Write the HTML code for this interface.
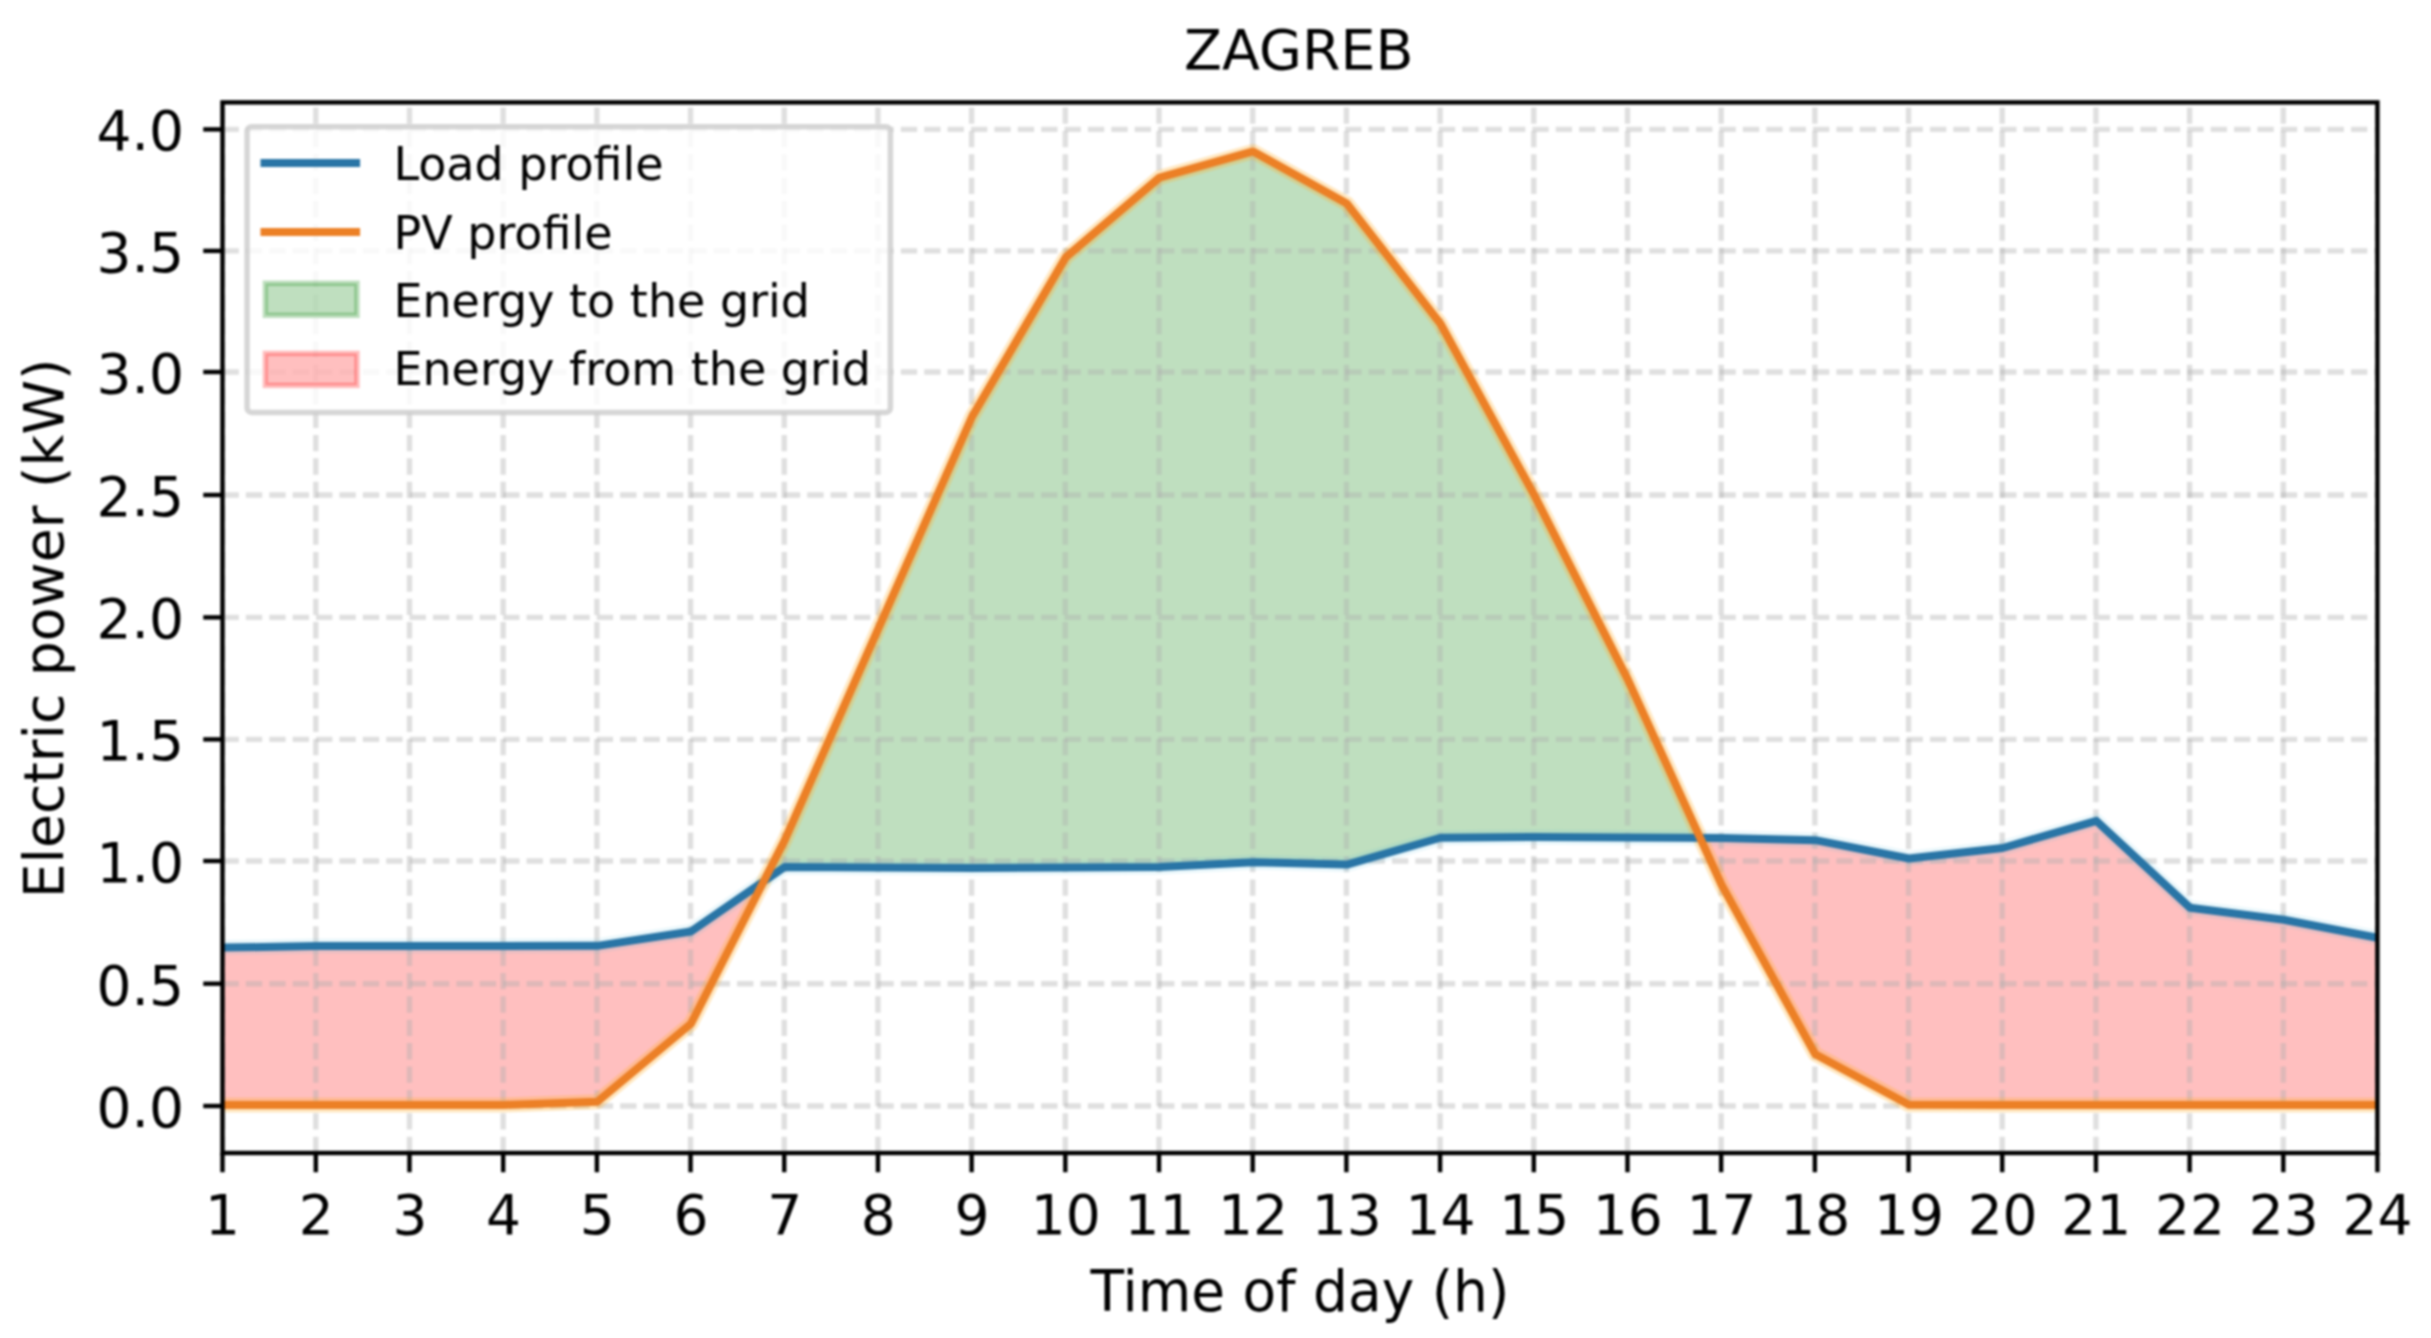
<!DOCTYPE html>
<html lang="en"><head><meta charset="utf-8"><title>ZAGREB</title>
<style>html,body{margin:0;padding:0;background:#fff}body{width:2431px;height:1338px;overflow:hidden}svg{display:block;filter:blur(1.2px)}text{font-family:'DejaVu Sans','Liberation Sans',sans-serif;fill:#000}</style></head><body>
<svg width="2431" height="1338" viewBox="0 0 2431 1338">
<rect x="-20" y="-20" width="2471" height="1378" fill="#fff"/>
<defs><clipPath id="ax"><rect x="222.5" y="102.4" width="2154.9" height="1050.6"/></clipPath></defs>
<g clip-path="url(#ax)">
<path d="M763.68 881.44 L784.65 840.42 L878.34 628.58 L972.03 416.75 L1065.72 257.38 L1159.41 177.58 L1253.1 151.46 L1346.8 203.45 L1440.49 323.76 L1534.18 494.84 L1627.87 679.59 L1700.12 837.87 L1700.12 837.87 L1627.87 837.49 L1534.18 837 L1440.49 837.73 L1346.8 864.58 L1253.1 862.14 L1159.41 867.02 L1065.72 867.51 L972.03 868 L878.34 867.51 L784.65 867.02 L763.68 881.44Z" fill="#008000" fill-opacity="0.25"/>
<path d="M222.5 1104.97 L316.19 1104.97 L409.88 1104.97 L503.57 1104.97 L597.27 1101.8 L690.96 1023.7 L763.68 881.44 L763.68 881.44 L690.96 931.45 L597.27 945.85 L503.57 946.09 L409.88 946.09 L316.19 946.09 L222.5 947.56Z" fill="#ff0000" fill-opacity="0.25"/>
<path d="M1700.12 837.87 L1721.56 884.83 L1815.25 1054.21 L1908.94 1104.72 L2002.63 1104.97 L2096.33 1104.97 L2190.02 1104.97 L2283.71 1104.97 L2377.4 1104.97 L2377.4 937.79 L2283.71 919.73 L2190.02 907.78 L2096.33 820.89 L2002.63 847.98 L1908.94 858.48 L1815.25 840.17 L1721.56 837.98 L1700.12 837.87Z" fill="#ff0000" fill-opacity="0.25"/>
<g stroke="#b0b0b0" stroke-opacity="0.4" stroke-width="5.4" stroke-dasharray="16.33 7.06" fill="none">
<path d="M222.5 1153 V102.4"/>
<path d="M315.79 1153 V102.4"/>
<path d="M409.48 1153 V102.4"/>
<path d="M503.17 1153 V102.4"/>
<path d="M596.87 1153 V102.4"/>
<path d="M690.56 1153 V102.4"/>
<path d="M784.25 1153 V102.4"/>
<path d="M877.94 1153 V102.4"/>
<path d="M971.63 1153 V102.4"/>
<path d="M1065.32 1153 V102.4"/>
<path d="M1159.01 1153 V102.4"/>
<path d="M1252.7 1153 V102.4"/>
<path d="M1346.4 1153 V102.4"/>
<path d="M1440.09 1153 V102.4"/>
<path d="M1533.78 1153 V102.4"/>
<path d="M1627.47 1153 V102.4"/>
<path d="M1721.16 1153 V102.4"/>
<path d="M1814.85 1153 V102.4"/>
<path d="M1908.54 1153 V102.4"/>
<path d="M2002.23 1153 V102.4"/>
<path d="M2095.93 1153 V102.4"/>
<path d="M2189.62 1153 V102.4"/>
<path d="M2283.31 1153 V102.4"/>
<path d="M2377.4 1153 V102.4"/>
<path d="M222.5 1106 H2377.4"/>
<path d="M222.5 983.7 H2377.4"/>
<path d="M222.5 861 H2377.4"/>
<path d="M222.5 739.4 H2377.4"/>
<path d="M222.5 617.4 H2377.4"/>
<path d="M222.5 495 H2377.4"/>
<path d="M222.5 372 H2377.4"/>
<path d="M222.5 250.9 H2377.4"/>
<path d="M222.5 129.4 H2377.4"/>
</g>
<path d="M222.5 947.56 L316.19 946.09 L409.88 946.09 L503.57 946.09 L597.27 945.85 L690.96 931.45 L784.65 867.02 L878.34 867.51 L972.03 868 L1065.72 867.51 L1159.41 867.02 L1253.1 862.14 L1346.8 864.58 L1440.49 837.73 L1534.18 837 L1627.87 837.49 L1721.56 837.98 L1815.25 840.17 L1908.94 858.48 L2002.63 847.98 L2096.33 820.89 L2190.02 907.78 L2283.71 919.73 L2377.4 937.79" fill="none" stroke="#50c0e0" stroke-opacity="0.12" stroke-width="15" stroke-linejoin="round"/>
<path d="M222.5 1104.97 L316.19 1104.97 L409.88 1104.97 L503.57 1104.97 L597.27 1101.8 L690.96 1023.7 L784.65 840.42 L878.34 628.58 L972.03 416.75 L1065.72 257.38 L1159.41 177.58 L1253.1 151.46 L1346.8 203.45 L1440.49 323.76 L1534.18 494.84 L1627.87 679.59 L1721.56 884.83 L1815.25 1054.21 L1908.94 1104.72 L2002.63 1104.97 L2096.33 1104.97 L2190.02 1104.97 L2283.71 1104.97 L2377.4 1104.97" fill="none" stroke="#ffb030" stroke-opacity="0.3" stroke-width="15" stroke-linejoin="round"/>
<path d="M222.5 947.56 L316.19 946.09 L409.88 946.09 L503.57 946.09 L597.27 945.85 L690.96 931.45 L784.65 867.02 L878.34 867.51 L972.03 868 L1065.72 867.51 L1159.41 867.02 L1253.1 862.14 L1346.8 864.58 L1440.49 837.73 L1534.18 837 L1627.87 837.49 L1721.56 837.98 L1815.25 840.17 L1908.94 858.48 L2002.63 847.98 L2096.33 820.89 L2190.02 907.78 L2283.71 919.73 L2377.4 937.79" fill="none" stroke="#2975a6" stroke-width="8" stroke-linejoin="round" stroke-linecap="square"/>
<path d="M222.5 1104.97 L316.19 1104.97 L409.88 1104.97 L503.57 1104.97 L597.27 1101.8 L690.96 1023.7 L784.65 840.42 L878.34 628.58 L972.03 416.75 L1065.72 257.38 L1159.41 177.58 L1253.1 151.46 L1346.8 203.45 L1440.49 323.76 L1534.18 494.84 L1627.87 679.59 L1721.56 884.83 L1815.25 1054.21 L1908.94 1104.72 L2002.63 1104.97 L2096.33 1104.97 L2190.02 1104.97 L2283.71 1104.97 L2377.4 1104.97" fill="none" stroke="#ec8026" stroke-width="8" stroke-linejoin="round" stroke-linecap="square"/>
</g>
<g stroke="#000" stroke-width="4.4" fill="none">
<path d="M222.5 1153 v19.25"/>
<path d="M315.79 1153 v19.25"/>
<path d="M409.48 1153 v19.25"/>
<path d="M503.17 1153 v19.25"/>
<path d="M596.87 1153 v19.25"/>
<path d="M690.56 1153 v19.25"/>
<path d="M784.25 1153 v19.25"/>
<path d="M877.94 1153 v19.25"/>
<path d="M971.63 1153 v19.25"/>
<path d="M1065.32 1153 v19.25"/>
<path d="M1159.01 1153 v19.25"/>
<path d="M1252.7 1153 v19.25"/>
<path d="M1346.4 1153 v19.25"/>
<path d="M1440.09 1153 v19.25"/>
<path d="M1533.78 1153 v19.25"/>
<path d="M1627.47 1153 v19.25"/>
<path d="M1721.16 1153 v19.25"/>
<path d="M1814.85 1153 v19.25"/>
<path d="M1908.54 1153 v19.25"/>
<path d="M2002.23 1153 v19.25"/>
<path d="M2095.93 1153 v19.25"/>
<path d="M2189.62 1153 v19.25"/>
<path d="M2283.31 1153 v19.25"/>
<path d="M2377.4 1153 v19.25"/>
<path d="M222.5 1106 h-19.25"/>
<path d="M222.5 983.7 h-19.25"/>
<path d="M222.5 861 h-19.25"/>
<path d="M222.5 739.4 h-19.25"/>
<path d="M222.5 617.4 h-19.25"/>
<path d="M222.5 495 h-19.25"/>
<path d="M222.5 372 h-19.25"/>
<path d="M222.5 250.9 h-19.25"/>
<path d="M222.5 129.4 h-19.25"/>
</g>
<rect x="222.5" y="102.4" width="2154.9" height="1050.6" fill="none" stroke="#000" stroke-width="4.4" stroke-linejoin="miter"/>
<text transform="translate(222.5 1234.4)" font-size="55" text-anchor="middle">1</text>
<text transform="translate(316.19 1234.4)" font-size="55" text-anchor="middle">2</text>
<text transform="translate(409.88 1234.4)" font-size="55" text-anchor="middle">3</text>
<text transform="translate(503.57 1234.4)" font-size="55" text-anchor="middle">4</text>
<text transform="translate(597.27 1234.4)" font-size="55" text-anchor="middle">5</text>
<text transform="translate(690.96 1234.4)" font-size="55" text-anchor="middle">6</text>
<text transform="translate(784.65 1234.4)" font-size="55" text-anchor="middle">7</text>
<text transform="translate(878.34 1234.4)" font-size="55" text-anchor="middle">8</text>
<text transform="translate(972.03 1234.4)" font-size="55" text-anchor="middle">9</text>
<text transform="translate(1065.72 1234.4)" font-size="55" text-anchor="middle">10</text>
<text transform="translate(1159.41 1234.4)" font-size="55" text-anchor="middle">11</text>
<text transform="translate(1253.1 1234.4)" font-size="55" text-anchor="middle">12</text>
<text transform="translate(1346.8 1234.4)" font-size="55" text-anchor="middle">13</text>
<text transform="translate(1440.49 1234.4)" font-size="55" text-anchor="middle">14</text>
<text transform="translate(1534.18 1234.4)" font-size="55" text-anchor="middle">15</text>
<text transform="translate(1627.87 1234.4)" font-size="55" text-anchor="middle">16</text>
<text transform="translate(1721.56 1234.4)" font-size="55" text-anchor="middle">17</text>
<text transform="translate(1815.25 1234.4)" font-size="55" text-anchor="middle">18</text>
<text transform="translate(1908.94 1234.4)" font-size="55" text-anchor="middle">19</text>
<text transform="translate(2002.63 1234.4)" font-size="55" text-anchor="middle">20</text>
<text transform="translate(2096.33 1234.4)" font-size="55" text-anchor="middle">21</text>
<text transform="translate(2190.02 1234.4)" font-size="55" text-anchor="middle">22</text>
<text transform="translate(2283.71 1234.4)" font-size="55" text-anchor="middle">23</text>
<text transform="translate(2377.4 1234.4)" font-size="55" text-anchor="middle">24</text>
<text transform="translate(184 1126.8)" font-size="55" text-anchor="end">0.0</text>
<text transform="translate(184 1004.5)" font-size="55" text-anchor="end">0.5</text>
<text transform="translate(184 881.8)" font-size="55" text-anchor="end">1.0</text>
<text transform="translate(184 760.2)" font-size="55" text-anchor="end">1.5</text>
<text transform="translate(184 638.2)" font-size="55" text-anchor="end">2.0</text>
<text transform="translate(184 515.8)" font-size="55" text-anchor="end">2.5</text>
<text transform="translate(184 392.8)" font-size="55" text-anchor="end">3.0</text>
<text transform="translate(184 271.7)" font-size="55" text-anchor="end">3.5</text>
<text transform="translate(184 150.2)" font-size="55" text-anchor="end">4.0</text>
<text transform="translate(1299.95 1311) scale(1 1.02)" font-size="55" text-anchor="middle">Time of day (h)</text>
<text transform="translate(62.5 628.4) rotate(-90)" font-size="55.2" text-anchor="middle">Electric power (kW)</text>
<text transform="translate(1298.75 69.1)" font-size="55.4" text-anchor="middle">ZAGREB</text>
<rect x="247.1" y="126.8" width="643.3" height="285.6" rx="4.5" ry="4.5" fill="#fff" fill-opacity="0.8" stroke="#cccccc" stroke-opacity="0.8" stroke-width="5.5"/>
<path d="M264.5 163 H356.1" stroke="#2975a6" stroke-width="8" stroke-linecap="square"/>
<path d="M264.5 231.9 H356.1" stroke="#ec8026" stroke-width="8" stroke-linecap="square"/>
<rect x="265.4" y="283.3" width="91.6" height="32" fill="#008000" fill-opacity="0.25" stroke="#008000" stroke-opacity="0.25" stroke-width="5.5"/>
<rect x="265.4" y="353.4" width="91.6" height="32" fill="#ff0000" fill-opacity="0.25" stroke="#ff0000" stroke-opacity="0.25" stroke-width="5.5"/>
<text transform="translate(393.4 180.2)" font-size="46" text-anchor="start">Load profile</text>
<text transform="translate(393.4 248.7)" font-size="46" text-anchor="start">PV profile</text>
<text transform="translate(393.4 316.6)" font-size="46" text-anchor="start">Energy to the grid</text>
<text transform="translate(393.4 385.3)" font-size="46" text-anchor="start">Energy from the grid</text>
</svg></body></html>
